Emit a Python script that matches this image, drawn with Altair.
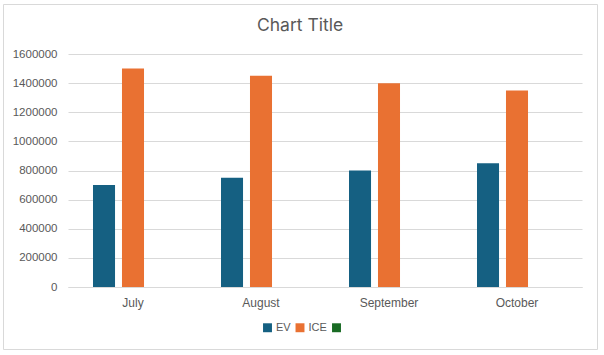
import altair as alt
import pandas as pd

months = ["July", "August", "September", "October"]
series = ["EV", "ICE", " "]
ev = [700000, 750000, 800000, 850000]
ice = [1500000, 1450000, 1400000, 1350000]
third = [None, None, None, None]
colors = ["#156082", "#E97132", "#196B24"]

rows = []
for i, m in enumerate(months):
    rows.append({"month": m, "series": series[0], "value": ev[i]})
    rows.append({"month": m, "series": series[1], "value": ice[i]})
    rows.append({"month": m, "series": series[2], "value": third[i]})
df = pd.DataFrame(rows)

FONT = "Liberation Sans"
GRAY = "#595959"

bars = alt.Chart(df).mark_bar().encode(
    x=alt.X("month:N", sort=months, title=None,
            scale=alt.Scale(paddingInner=0.375, paddingOuter=0.1953),
            axis=alt.Axis(labelAngle=0, ticks=False, domainColor="#d9d9d9",
                          labelColor=GRAY, labelFont=FONT, labelFontSize=12,
                          labelPadding=10, grid=False)),
    xOffset=alt.XOffset("series:N", sort=series,
                        scale=alt.Scale(paddingInner=0.24, paddingOuter=0)),
    y=alt.Y("value:Q", title=None,
            scale=alt.Scale(domain=[0, 1600000], nice=False),
            axis=alt.Axis(values=list(range(0, 1600001, 200000)), format="d",
                          ticks=False, domain=False, gridColor="#d9d9d9",
                          labelColor=GRAY, labelFont=FONT, labelFontSize=11.5,
                          labelPadding=11)),
    color=alt.Color("series:N", sort=series,
                    scale=alt.Scale(domain=series, range=colors),
                    legend=alt.Legend(orient="none", direction="horizontal",
                                      legendX=194, legendY=268, title=None,
                                      symbolType="square", symbolSize=80,
                                      symbolStrokeWidth=0,
                                      labelColor=GRAY, labelFont=FONT,
                                      labelFontSize=11, columnPadding=3.5,
                                      labelOffset=3, symbolOffset=0)),
)

border = alt.Chart(pd.DataFrame({"a": [0]})).mark_rect(
    fill=None, stroke="#d9d9d9", strokeWidth=1
).encode(
    x=alt.value(-64.5), x2=alt.value(529.5),
    y=alt.value(-49.5), y2=alt.value(295.5)
)

chart = alt.layer(border, bars).properties(
    width=514, height=233,
    padding={"left": 68, "top": 54, "right": 22, "bottom": 68},
    autosize=alt.AutoSizeParams(type="none"),
    title=alt.TitleParams("Chart Title", font="Inter", fontSize=17.5,
                          fontWeight="normal", color=GRAY, dx=-25, offset=-30,
                          anchor="middle"),
    background="white",
).configure_view(stroke=None)

chart.save("out.html", embed_options={"renderer": "svg", "actions": False})
